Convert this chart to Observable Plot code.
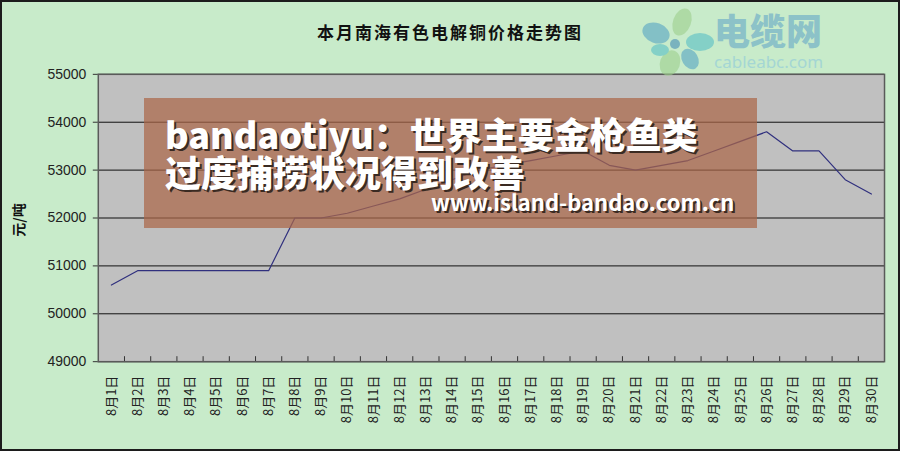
<!DOCTYPE html>
<html><head><meta charset="utf-8">
<script src="https://cdn.jsdelivr.net/npm/d3@7"></script>
<script src="https://cdn.jsdelivr.net/npm/@observablehq/plot@0.6"></script>
<style>
html,body{margin:0;padding:0;background:#c8ebca;}
#wrap{position:relative;width:900px;height:451px;box-sizing:border-box;border:2px solid #1c1c1c;overflow:hidden;background:#c8ebca;}
#chart{position:absolute;left:-2px;top:-2px;}
#title{position:absolute;left:-2px;top:17px;width:900px;text-align:center;font-family:"Noto Sans CJK SC",sans-serif;font-weight:700;font-size:17px;letter-spacing:2px;color:#111;}
#ylab{position:absolute;left:-4px;top:208px;transform:rotate(-90deg);transform-origin:center;font-family:"Noto Sans CJK SC",sans-serif;font-weight:700;font-size:14px;color:#111;width:40px;text-align:center;}
#overlay{position:absolute;left:142px;top:96px;width:613px;height:130px;background:rgba(170,102,72,0.72);}
.ov{position:absolute;white-space:nowrap;color:#fff;font-family:"Noto Sans CJK SC",sans-serif;font-weight:900;text-shadow:2px 2px 0 #3a2a22;}
#logo{position:absolute;left:638px;top:-2px;overflow:visible;}
</style></head>
<body>
<div id="wrap">
  <div id="chart"></div>
  <div id="title">本月南海有色电解铜价格走势图</div>
  <div id="ylab">元/吨</div>
  <div id="overlay">
    <div class="ov" style="left:21px;top:16px;font-size:36px;line-height:38px;">bandaotiyu：世界主要金枪鱼类<br>过度捕捞状况得到改善</div>
    <div class="ov" style="left:287px;top:92px;font-size:22px;line-height:1;font-weight:700;">www.island-bandao.com.cn</div>
  </div>
  <svg id="logo" width="220" height="82" viewBox="0 0 220 82">
    <g transform="translate(0,6)">
      <g opacity="0.62">
        <ellipse cx="42" cy="16" rx="9" ry="14" fill="#9fd08f" transform="rotate(20 42 16)"/>
        <ellipse cx="16" cy="27" rx="14" ry="10" fill="#5aa6c4" transform="rotate(20 16 27)"/>
        <ellipse cx="60" cy="36" rx="14" ry="9" fill="#5cc0c6"/>
        <ellipse cx="30" cy="57" rx="10" ry="13" fill="#9fd08f" transform="rotate(20 30 57)"/>
        <ellipse cx="50" cy="53" rx="8" ry="11" fill="#5aa6c4" transform="rotate(-30 50 53)"/>
        <ellipse cx="20" cy="44" rx="9" ry="6" fill="#5cc0c6"/>
        <circle cx="35" cy="38" r="5" fill="#4c92b8"/>
      </g>
      <text x="74" y="39" font-family="Noto Sans CJK SC" font-weight="900" font-size="36" fill="#8cc2c8">电缆网</text>
      <text x="74" y="62" font-family="Noto Sans" font-size="17" fill="#a4d6d4">cableabc.com</text>
    </g>
  </svg>
</div>
<script>
const dayNumbers = [1,2,3,4,5,6,7,8,9,10,11,12,13,14,15,16,17,18,19,20,21,22,23,24,25,26,27,28,29,30];
const dayLabels = ["8月1日","8月2日","8月3日","8月4日","8月5日","8月6日","8月7日","8月8日","8月9日","8月10日",
  "8月11日","8月12日","8月13日","8月14日","8月15日","8月16日","8月17日","8月18日","8月19日","8月20日",
  "8月21日","8月22日","8月23日","8月24日","8月25日","8月26日","8月27日","8月28日","8月29日","8月30日"];
const prices = [50600,50900,50900,50900,50900,50900,50900,52000,52000,52100,
  52250,52400,52600,52800,53000,53100,53200,53300,53400,53100,
  53000,53100,53200,53400,53600,53800,53400,53400,52800,52500];
const yTicks = [49000,50000,51000,52000,53000,54000,55000];
const dayBoundaries = [1.5,2.5,3.5,4.5,5.5,6.5,7.5,8.5,9.5,10.5,11.5,12.5,13.5,14.5,15.5,16.5,17.5,18.5,19.5,20.5,21.5,22.5,23.5,24.5,25.5,26.5,27.5,28.5,29.5];

const chart = Plot.plot({
  width: 900, height: 451,
  marginTop: 74, marginLeft: 98, marginRight: 14, marginBottom: 89,
  style: {background: "transparent", fontFamily: "'Liberation Sans', Arial, sans-serif", fontSize: "14px", color: "#222"},
  x: {type: "linear", domain: [0.5, 30.5]},
  y: {domain: [49000, 55000]},
  marks: [
    Plot.frame({fill: "#c0c0c0", stroke: null}),
    Plot.gridY(yTicks, {stroke: "#111", strokeOpacity: 1, strokeWidth: 1}),
    Plot.axisY(yTicks, {tickSize: 5, tickPadding: 7, tickFormat: d => String(d), label: null, stroke: "#333", fontSize: 14}),
    Plot.axisX(dayBoundaries, {tickSize: -5, tickFormat: () => "", label: null, stroke: "#333"}),
    Plot.axisX(dayNumbers, {tickSize: 0, tickPadding: 14, tickRotate: -90, tickFormat: d => dayLabels[d - 1],
      label: null, fontFamily: "'Noto Sans CJK SC', sans-serif", fontSize: 13}),
    Plot.line(dayNumbers, {x: d => d, y: (d, i) => prices[i], stroke: "#30307e", strokeWidth: 1.2}),
    Plot.frame({stroke: "#5a5a5a", strokeWidth: 1.5})
  ]
});
document.getElementById("chart").appendChild(chart);
</script>
</body></html>
